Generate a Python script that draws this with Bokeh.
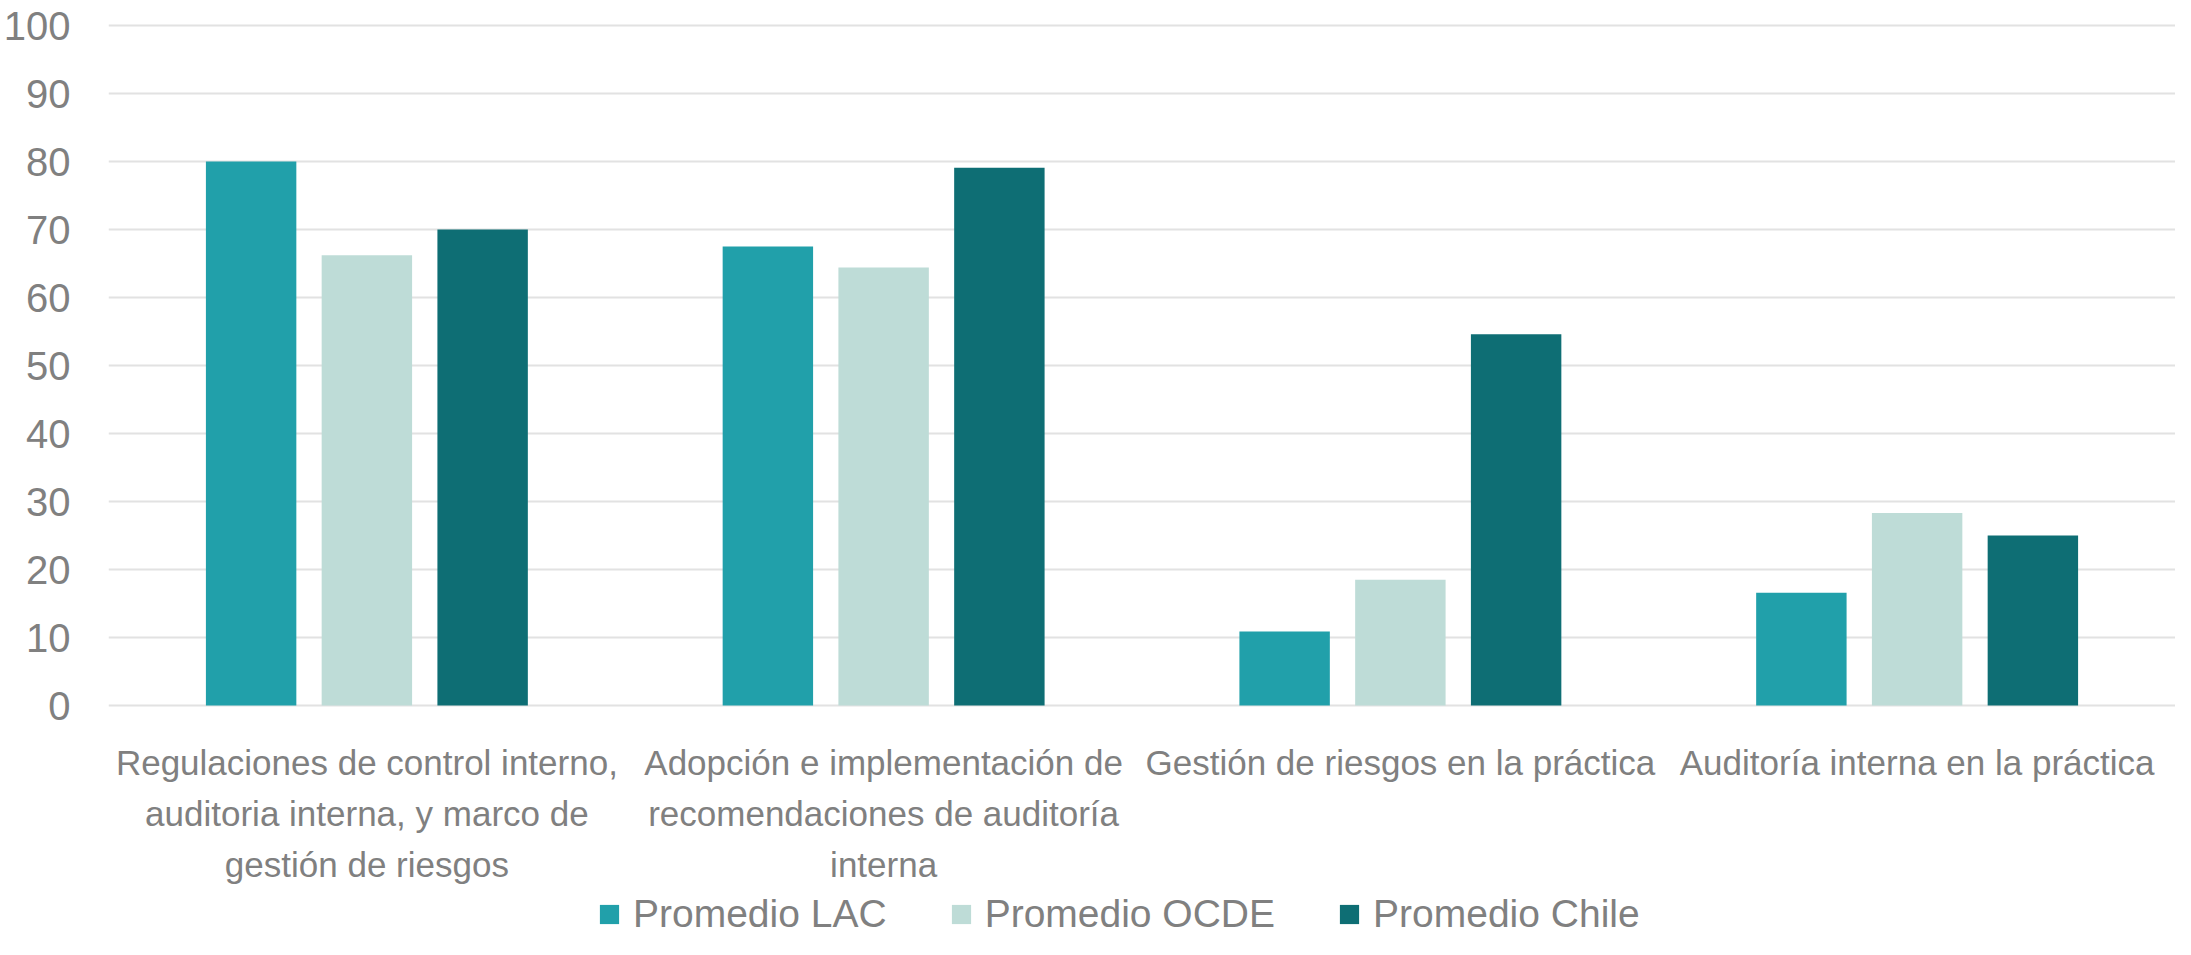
from bokeh.plotting import figure
from bokeh.models import ColumnDataSource, FactorRange, Legend, LegendItem
from bokeh.core.properties import value
from bokeh.transform import dodge
from bokeh.embed import file_html
from bokeh.resources import INLINE

categories = [
    "Regulaciones de control interno,\nauditoria interna, y marco de\ngestión de riesgos",
    "Adopción e implementación de\nrecomendaciones de auditoría\ninterna",
    "Gestión de riesgos en la práctica",
    "Auditoría interna en la práctica",
]
series_names = ["Promedio LAC", "Promedio OCDE", "Promedio Chile"]
lac = [80.0, 67.5, 10.9, 16.6]
ocde = [66.2, 64.4, 18.5, 28.3]
chile = [70.0, 79.1, 54.6, 25.0]
colors = ["#21A0AA", "#BEDCD7", "#0E6E74"]
y_ticks = [0, 10, 20, 30, 40, 50, 60, 70, 80, 90, 100]

FONT = "Liberation Sans"
TEXT_COLOR = "#808080"

source = ColumnDataSource(data=dict(cat=categories, lac=lac, ocde=ocde, chile=chile,
                                    base=[0] * len(categories)))

# frame reaches the bottom of the figure; the space under 0 holds the
# category labels and the legend (6.8 px per unit)
p = figure(
    x_range=FactorRange(*categories, range_padding=0),
    y_range=(-34.41, 100.3),
    width=2175, height=939,
    output_backend="svg", toolbar_location=None,
    min_border_top=23, min_border_left=103, min_border_right=0, min_border_bottom=0,
)
p.outline_line_color = None

renderers = []
for field, off, col in zip(["lac", "ocde", "chile"], [-0.224, 0.0, 0.224], colors):
    r = p.vbar(x=dodge("cat", off, range=p.x_range), top=field, bottom=0, width=0.175,
               source=source, fill_color=col, line_color=None)
    renderers.append(r)

# category labels below the zero line
p.text(x="cat", y="base", text="cat", source=source,
       text_font=value(FONT), text_font_size="35px", text_color=TEXT_COLOR,
       text_align="center", text_baseline="top", text_line_height=1.31,
       y_offset=37)

p.xgrid.grid_line_color = None
p.ygrid.grid_line_color = "#E2E2E2"
p.ygrid.grid_line_width = 2
p.ygrid.ticker = y_ticks
p.yaxis.ticker = y_ticks
p.xaxis.visible = False

ax = p.yaxis[0]
ax.axis_line_color = None
ax.major_tick_line_color = None
ax.minor_tick_line_color = None
ax.major_tick_out = 0
ax.major_tick_in = 0
ax.major_label_text_font = FONT
ax.major_label_text_color = TEXT_COLOR
ax.major_label_text_font_size = "40px"
ax.major_label_standoff = 38

legend = Legend(
    items=[LegendItem(label=n, renderers=[r]) for n, r in zip(series_names, renderers)],
    orientation="horizontal",
    location=(489, 3),
    label_text_font=FONT,
    label_text_font_size="39px",
    label_text_color=TEXT_COLOR,
    glyph_width=24, glyph_height=24,
    label_standoff=12,
    spacing=62,
    border_line_color=None,
    background_fill_alpha=0,
    padding=0,
    margin=0,
)
p.add_layout(legend, "center")

open("out.html", "w").write(file_html(p, INLINE))
